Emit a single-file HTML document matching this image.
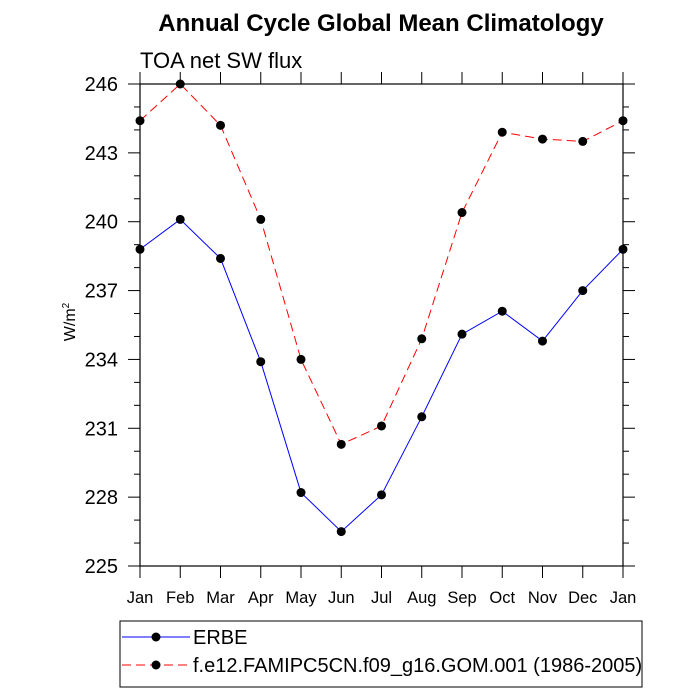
<!DOCTYPE html>
<html><head><meta charset="utf-8"><style>body{margin:0;background:#fff}svg{display:block;font-family:"Liberation Sans",sans-serif}</style></head>
<body>
<svg id="c" width="700" height="700">
<text x="381" y="31" text-anchor="middle" font-size="24" font-weight="bold">Annual Cycle Global Mean Climatology</text>
<text x="140" y="68" font-size="22">TOA net SW flux</text>
<text transform="translate(75,322) rotate(-90)" text-anchor="middle" font-size="16">W/m<tspan dy="-6" font-size="10">2</tspan></text>
<g id="ax"></g><g id="ser"></g>
<rect x="120" y="621" width="522" height="66" fill="none" stroke="#000"/>
<g><line x1="122" y1="637" x2="190" y2="637" stroke="blue"/><circle cx="156" cy="637" r="4.5"/><text x="193" y="644" font-size="20">ERBE</text></g>
<g><line x1="122" y1="665" x2="190" y2="665" stroke="red" stroke-dasharray="9,5"/><circle cx="156" cy="665" r="4.5"/><text x="193" y="672" font-size="20">f.e12.FAMIPC5CN.f09_g16.GOM.001 (1986-2005)</text></g>
</svg>
<script>
const months=["Jan","Feb","Mar","Apr","May","Jun","Jul","Aug","Sep","Oct","Nov","Dec","Jan"];
const erbe=[238.8,240.1,238.4,233.9,228.2,226.5,228.1,231.5,235.1,236.1,234.8,237.0,238.8];
const model=[244.4,246.0,244.2,240.1,234.0,230.3,231.1,234.9,240.4,243.9,243.6,243.5,244.4];
const yTicks=[225,228,231,234,237,240,243,246];
const L=140,R=623,T=84,B=566,ymin=225,ymax=246;
const X=i=>L+(R-L)*i/(months.length-1);
const Y=v=>B-(B-T)*(v-ymin)/(ymax-ymin);
const NS="http://www.w3.org/2000/svg";
function mk(t,a,p){const e=document.createElementNS(NS,t);for(const k in a)e.setAttribute(k,a[k]);p.appendChild(e);return e;}
const ax=document.getElementById('ax');
const fr=mk('rect',{x:L,y:T,width:R-L,height:B-T,fill:'none',stroke:'#000','stroke-width':1.2},ax);


for(let v=ymin;v<=ymax;v++){const len=(v%3===0)?12:6;
 mk('line',{x1:L-len,y1:Y(v),x2:L,y2:Y(v),stroke:'#000'},ax);
 mk('line',{x1:R,y1:Y(v),x2:R+len,y2:Y(v),stroke:'#000'},ax);}
yTicks.forEach(v=>{const t=mk('text',{x:L-22,y:Y(v)+7,'text-anchor':'end','font-size':20},ax);t.textContent=v;
 
 });
months.forEach((m,i)=>{const x=X(i);
 mk('line',{x1:x,y1:B,x2:x,y2:B+12,stroke:'#000'},ax);
 mk('line',{x1:x,y1:T-12,x2:x,y2:T,stroke:'#000'},ax);
 const t=mk('text',{x:x,y:B+37,'text-anchor':'middle','font-size':16.5},ax);t.textContent=m;
 
 });
const ser=document.getElementById('ser');
function draw(arr,col,dash,name){
 const p=mk('polyline',{points:arr.map((v,i)=>X(i)+','+Y(v)).join(' '),fill:'none',stroke:col,'stroke-dasharray':dash},ser);
 
 
 arr.forEach((v,i)=>{const c=mk('circle',{cx:X(i),cy:Y(v),r:4.5},ser);
  
  });}
draw(erbe,'blue','none','erbe');
draw(model,'red','9,5','model');
</script>
</body></html>
